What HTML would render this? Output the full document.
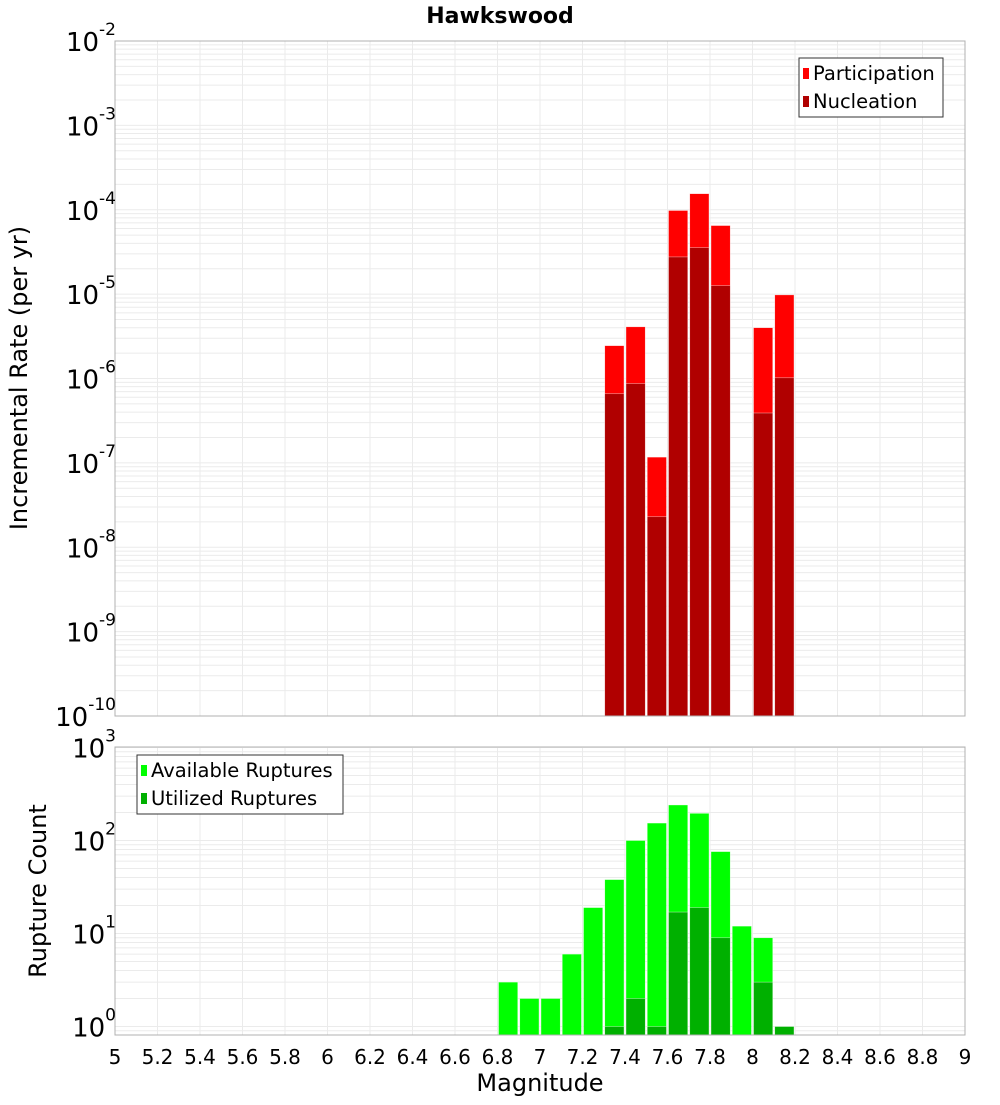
<!DOCTYPE html>
<html><head><meta charset="utf-8"><style>
body{margin:0;background:#fff;font-family:"Liberation Sans","DejaVu Sans",sans-serif;}
svg text{font-family:"DejaVu Sans","Liberation Sans",sans-serif;}
</style></head><body>
<svg id="c" width="1000" height="1100" xmlns="http://www.w3.org/2000/svg">
<text x="500" y="23" text-anchor="middle" font-size="22" font-weight="bold">Hawkswood</text>
</svg>
<script>
const bins=[7.3,7.4,7.5,7.6,7.7,7.8,8.0,8.1];
const participation=[2.45e-6,4.1e-6,1.17e-7,9.8e-5,1.55e-4,6.5e-5,4.0e-6,9.8e-6];
const nucleation=[6.6e-7,8.7e-7,2.3e-8,2.76e-5,3.55e-5,1.26e-5,3.9e-7,1.02e-6];
const cbins=[6.8,6.9,7.0,7.1,7.2,7.3,7.4,7.5,7.6,7.7,7.8,7.9,8.0,8.1];
const available=[3,2,2,6,19,38,100,154,241,196,76,12,9,1];
const utilized=[0,0,0,0,0,1,2,1,17,19,9,0,3,1];
const xTicks=[5,5.2,5.4,5.6,5.8,6,6.2,6.4,6.6,6.8,7,7.2,7.4,7.6,7.8,8,8.2,8.4,8.6,8.8,9];
const topExps=[-2,-3,-4,-5,-6,-7,-8,-9,-10];
const botExps=[3,2,1,0];

const svg=document.getElementById('c');const NS='http://www.w3.org/2000/svg';
function el(t,a,p){const e=document.createElementNS(NS,t);for(const k in a)e.setAttribute(k,a[k]);(p||svg).appendChild(e);return e;}
const X0=115,X1=965;
const xs=v=>X0+(v-5)/4*(X1-X0);
const T0=41,T1=716;
const yTop=v=>T0+(-2-Math.log10(v))/8*(T1-T0);
const B0=747,B1=1035;
const yBot=v=>1026.5-Math.log10(v)*93;

function grid(y0,y1,yf,expLo,expHi,name){
  const g=el('g',{});
  
  
  for(let e=expLo;e<=expHi;e++)for(let m=1;m<10;m++){const y=yf(m*Math.pow(10,e));if(y>=y0&&y<=y1)el('line',{x1:X0,x2:X1,y1:y,y2:y,stroke:'#ebebeb','stroke-width':1},g);}
  for(const t of xTicks){const x=xs(t);el('line',{x1:x,x2:x,y1:y0,y2:y1,stroke:'#ebebeb','stroke-width':1},g);}
}
grid(T0,T1,yTop,-11,-3,'top-grid');
grid(B0,B1,yBot,-1,3,'bottom-grid');

function bars(binsArr,vals,yf,base,color,name){
  binsArr.forEach((b,i)=>{if(!vals[i])return;const x=xs(b)+1,w=xs(b+0.1)-xs(b)-2,y=yf(vals[i]);
    const r=el('rect',{x:x,y:y,width:w,height:base-y,fill:color,stroke:'#fff','stroke-width':0.6,'stroke-opacity':0.6});
    
    });
}
bars(bins,participation,yTop,T1,'#ff0000','participation');
bars(bins,nucleation,yTop,T1,'#b00000','nucleation');
bars(cbins,available,yBot,B1,'#00ff00','available');
bars(cbins,utilized,yBot,B1,'#00b000','utilized');

el('rect',{x:X0,y:T0,width:X1-X0,height:T1-T0,fill:'none',stroke:'#b0b0b0'});
el('rect',{x:X0,y:B0,width:X1-X0,height:B1-B0,fill:'none',stroke:'#b0b0b0'});

function ylab(y,e,name){const t=el('text',{x:116,y:y+10,'text-anchor':'end','font-size':26});
  t.textContent='10';const s=el('tspan',{dy:-16,'font-size':17},t);s.textContent=String(e);}
topExps.forEach(e=>ylab(yTop(Math.pow(10,e)),e,'top-y-tick'));
botExps.forEach(e=>ylab(yBot(Math.pow(10,e)),e,'bottom-y-tick'));
xTicks.forEach(t=>{const tx=el('text',{x:xs(t),y:1064,'text-anchor':'middle','font-size':20});tx.textContent=String(t);});

function legend(x,y,w,items,name){const g=el('g',{});
  el('rect',{x:x,y:y,width:w,height:59,fill:'#fff',stroke:'#333'},g);
  items.forEach((it,i)=>{el('rect',{x:x+4,y:y+10+i*28,width:6,height:11,fill:it[1]},g);const t=el('text',{x:x+14,y:y+22+i*28,'font-size':19.5},g);t.textContent=it[0];});}
legend(799,58,144,[['Participation','#ff0000'],['Nucleation','#b00000']],'top-legend');
legend(137,755,206,[['Available Ruptures','#00ff00'],['Utilized Ruptures','#00b000']],'bottom-legend');

const a=el('text',{x:0,y:0,'text-anchor':'middle','font-size':24,transform:'translate(27,378) rotate(-90)'});a.textContent='Incremental Rate (per yr)';
const b=el('text',{x:0,y:0,'text-anchor':'middle','font-size':24,transform:'translate(46,891) rotate(-90)'});b.textContent='Rupture Count';
const c=el('text',{x:540,y:1091,'text-anchor':'middle','font-size':24});c.textContent='Magnitude';
</script>
</body></html>
